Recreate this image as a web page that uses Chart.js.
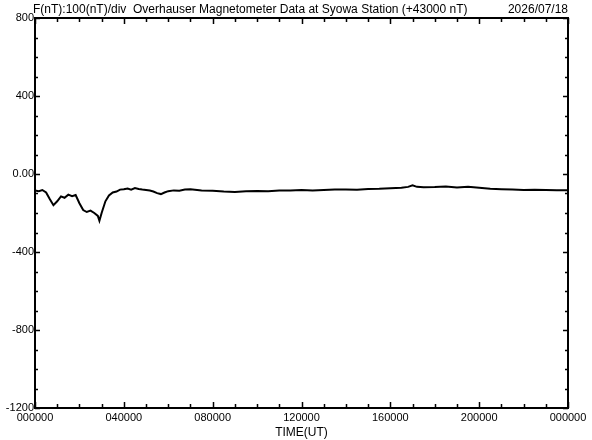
<!DOCTYPE html>
<html>
<head>
<meta charset="utf-8">
<script src="https://cdn.jsdelivr.net/npm/chart.js@4"></script>
<style>
  html, body { margin: 0; padding: 0; background: #fff; }
  #wrap { width: 592px; height: 440px; }
</style>
</head>
<body>
<div id="wrap"><canvas id="magChart" width="592" height="440"></canvas></div>
<script>
// Syowa, F component minus 43000 nT
const hours = [
  0, 0.17, 0.33, 0.5, 0.67, 0.83, 1.0, 1.17, 1.33, 1.5, 1.67, 1.83,
  2.0, 2.17, 2.33, 2.5, 2.67, 2.83, 2.9, 3.0, 3.17, 3.33, 3.5, 3.67, 3.83,
  4.0, 4.17, 4.33, 4.5, 4.67, 4.83, 5.0, 5.17, 5.33, 5.5, 5.67, 5.83, 6.0,
  6.25, 6.5, 6.75, 7, 7.5, 8, 8.5, 9, 9.5, 10, 10.5, 11, 11.5, 12, 12.5, 13, 13.5, 14,
  14.5, 15, 15.5, 16, 16.5, 16.8, 17, 17.2, 17.5, 18, 18.5, 19, 19.5, 20, 20.5, 21,
  21.5, 22, 22.5, 23, 23.5, 24
];
const fValues = [
  -85, -88, -82, -95, -130, -160, -140, -115, -122, -106, -114, -108,
  -150, -185, -195, -188, -200, -215, -240, -200, -140, -110, -95, -90, -80,
  -78, -74, -80, -72, -77, -80, -82, -85, -90, -98, -103, -95, -88,
  -84, -86, -80, -78, -84, -86, -90, -92, -88, -87, -89, -85, -84, -82, -85, -82, -80, -79,
  -81, -77, -76, -73, -71, -66, -58, -66, -68, -67, -64, -69, -66, -71, -76, -78,
  -80, -82, -81, -82, -83, -83
];
const xTickLabels = ['000000', '040000', '080000', '120000', '160000', '200000', '000000'];
const yTickValues = [800, 400, 0, -400, -800, -1200];
const titleLeft = 'F(nT):100(nT)/div  Overhauser Magnetometer Data at Syowa Station (+43000 nT)';
const titleDate = '2026/07/18';
const xTitle = 'TIME(UT)';

const FONT = '"Liberation Sans", Arial, sans-serif';

// рамка, внутренние засечки и подписи
const framePlugin = {
  id: 'frame',
  afterDraw(chart) {
    const { ctx, chartArea: a, scales: { x, y } } = chart;
    ctx.save();
    ctx.strokeStyle = '#000';
    ctx.lineWidth = 2;
    ctx.strokeRect(a.left, a.top, a.right - a.left, a.bottom - a.top);

    ctx.lineWidth = 1.5;
    ctx.beginPath();
    for (let h = 0; h <= 24; h++) {
      const px = Math.round(x.getPixelForValue(h)) + 0.5;
      const len = h % 4 === 0 ? 6 : 4;
      ctx.moveTo(px, a.bottom); ctx.lineTo(px, a.bottom - len);
      ctx.moveTo(px, a.top); ctx.lineTo(px, a.top + len);
    }
    for (let v = -1200; v <= 800; v += 100) {
      const py = Math.round(y.getPixelForValue(v)) + 0.5;
      const len = v % 400 === 0 ? 5 : 3;
      ctx.moveTo(a.left, py); ctx.lineTo(a.left + len, py);
      ctx.moveTo(a.right, py); ctx.lineTo(a.right - len, py);
    }
    ctx.stroke();

    ctx.fillStyle = '#000';
    ctx.font = '12px ' + FONT;
    ctx.textBaseline = 'alphabetic';
    ctx.textAlign = 'left';
    ctx.fillText(titleLeft, a.left - 2, a.top - 5);
    ctx.textAlign = 'right';
    ctx.fillText(titleDate, a.right, a.top - 5);

    ctx.font = '12px ' + FONT;
    ctx.textAlign = 'center';
    ctx.fillText(xTitle, (a.left + a.right) / 2, 436);
    ctx.restore();
  }
};

new Chart(document.getElementById('magChart'), {
  type: 'line',
  data: {
    datasets: [{
      data: hours.map((h, i) => ({ x: h, y: fValues[i] })),
      borderColor: '#000',
      borderWidth: 2,
      pointRadius: 0,
      tension: 0,
      fill: false
    }]
  },
  options: {
    responsive: false,
    animation: false,
    layout: { padding: { top: 18, right: 24, left: 0, bottom: 0 } },
    plugins: { legend: { display: false }, tooltip: { enabled: false }, title: { display: false } },
    scales: {
      x: {
        type: 'linear',
        min: 0, max: 24,
        afterFit(s) { s.height = 32; },
        afterBuildTicks(s) { s.ticks = xTickLabels.map((_, i) => ({ value: i * 4 })); },
        grid: { display: false, drawTicks: false },
        border: { display: false },
        ticks: {
          color: '#000',
          font: { family: FONT, size: 11 },
          padding: 3,
          maxRotation: 0,
          autoSkip: false,
          callback: (v) => xTickLabels[v / 4]
        }
      },
      y: {
        min: -1200, max: 800,
        afterFit(s) { s.width = 35; },
        afterBuildTicks(s) { s.ticks = yTickValues.map(v => ({ value: v })); },
        grid: { display: false, drawTicks: false },
        border: { display: false },
        ticks: {
          color: '#000',
          font: { family: FONT, size: 11 },
          padding: 1,
          autoSkip: false,
          callback: (v) => v === 0 ? '0.00' : String(v)
        }
      }
    }
  },
  plugins: [framePlugin]
});
</script>
</body>
</html>
